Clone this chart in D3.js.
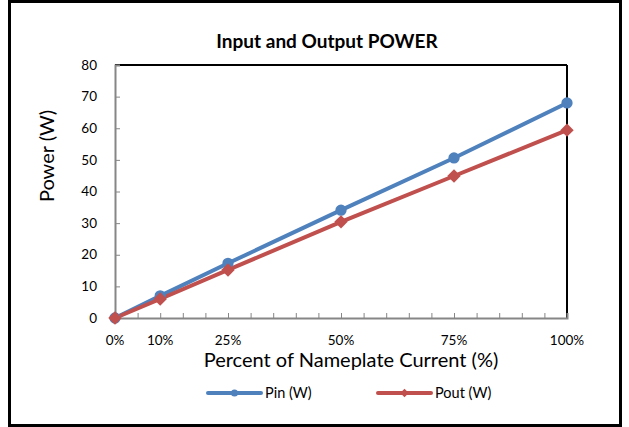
<!DOCTYPE html>
<html><head><meta charset="utf-8">
<script src="https://cdn.jsdelivr.net/npm/d3@7"></script>
<style>body{margin:0;background:#fff}svg{display:block}text{font-family:Lato,"Open Sans",sans-serif;fill:#000}</style>
</head><body><svg id="c" width="629" height="427"></svg>
<script>
const percents = [0, 10, 25, 50, 75, 100];
const pin = [0, 7.0, 17.3, 34.1, 50.6, 68.0];
const pout = [0, 6.0, 15.2, 30.4, 44.9, 59.4];
const yTicks = [0, 10, 20, 30, 40, 50, 60, 70, 80];
const xMinorTicks = d3.range(0, 101, 5);
const xLabels = [0, 10, 25, 50, 75, 100];
const seriesNames = ["Pin (W)", "Pout (W)"];
const colors = ["#4F81BD", "#C0504D"];

const svg = d3.select("#c");
svg.append("rect").attr("x",9.5).attr("y",1.5).attr("width",611).attr("height",424).attr("fill","#fff").attr("stroke","#000").attr("stroke-width",3);

const L=115, R=567, T=65, B=318;
const x = d3.scaleLinear().domain([0,100]).range([L,R]);
const y = d3.scaleLinear().domain([0,80]).range([B,T]);

svg.append("line").attr("x1",L).attr("x2",R).attr("y1",T).attr("y2",T).attr("stroke","#000").attr("stroke-width",2);
svg.append("line").attr("x1",R).attr("x2",R).attr("y1",T).attr("y2",B).attr("stroke","#000").attr("stroke-width",2);

const ya = svg.append("g").attr("transform",`translate(${L},0)`)
  .call(d3.axisRight(y).tickValues(yTicks).tickSize(5).tickFormat(""));
ya.select(".domain").attr("stroke","#868686").attr("stroke-width",2);
ya.selectAll(".tick line").attr("stroke","#868686").attr("stroke-width",1);
svg.append("g").selectAll("text").data(yTicks).join("text")
  .attr("x",97).attr("y",d=>y(d)).attr("dy","0.35em").attr("text-anchor","end")
  .style("font-size","13.5px").text(d=>d);

const xa = svg.append("g").attr("transform",`translate(0,${B})`)
  .call(d3.axisTop(x).tickValues(xMinorTicks).tickSize(5).tickFormat(""));
xa.select(".domain").attr("stroke","#868686").attr("stroke-width",2);
xa.selectAll(".tick line").attr("stroke","#868686").attr("stroke-width",1);
svg.append("g").selectAll("text").data(xLabels).join("text")
  .attr("x",d=>x(d)).attr("y",340).attr("dy","0.35em").attr("text-anchor","middle")
  .style("font-size","13.5px").text(d=>d+"%");

const series=[pin,pout];
const line = d3.line().x((d,i)=>x(percents[i])).y(d=>y(d));
series.forEach((s,k)=>{
  svg.append("path").datum(s).attr("d",line).attr("fill","none")
    .attr("stroke",colors[k]).attr("stroke-width",4).attr("stroke-linejoin","round");
});
const circ = d3.symbol().type(d3.symbolCircle).size(100);
svg.append("g").selectAll("path").data(pin).join("path")
  .attr("transform",(d,i)=>`translate(${x(percents[i])},${y(d)})`).attr("d",circ).attr("fill",colors[0]);
svg.append("g").selectAll("path").data(pout).join("path")
  .attr("d",d3.symbol().type(d3.symbolSquare).size(90)).attr("fill",colors[1])
  .attr("transform",(d,i)=>`translate(${x(percents[i])},${y(d)}) rotate(45)`);

svg.append("text").attr("x",327).attr("y",48).attr("text-anchor","middle").style("font-size","19px").style("font-weight","bold").text("Input and Output POWER");
svg.append("text").attr("x",351).attr("y",367).attr("text-anchor","middle").style("font-size","20px").text("Percent of Nameplate Current (%)");
svg.append("text").attr("transform","translate(54,156) rotate(-90)").attr("text-anchor","middle").style("font-size","20px").text("Power (W)");

const legX=[208,378];
series.forEach((s,k)=>{
  const g=svg.append("g").attr("transform",`translate(${legX[k]},393)`);
  g.append("line").attr("x1",0).attr("x2",53).attr("stroke",colors[k]).attr("stroke-width",4).attr("stroke-linecap","round");
  if(k===0) g.append("path").attr("transform","translate(26.5,0)").attr("d",d3.symbol().type(d3.symbolCircle).size(40)).attr("fill",colors[k]);
  else g.append("path").attr("transform","translate(26.5,0) rotate(45)").attr("d",d3.symbol().type(d3.symbolSquare).size(36)).attr("fill",colors[k]);
  g.append("text").attr("x",57).attr("y",0).attr("dy","0.35em").style("font-size","14.5px").text(seriesNames[k]);
});
</script></body></html>
